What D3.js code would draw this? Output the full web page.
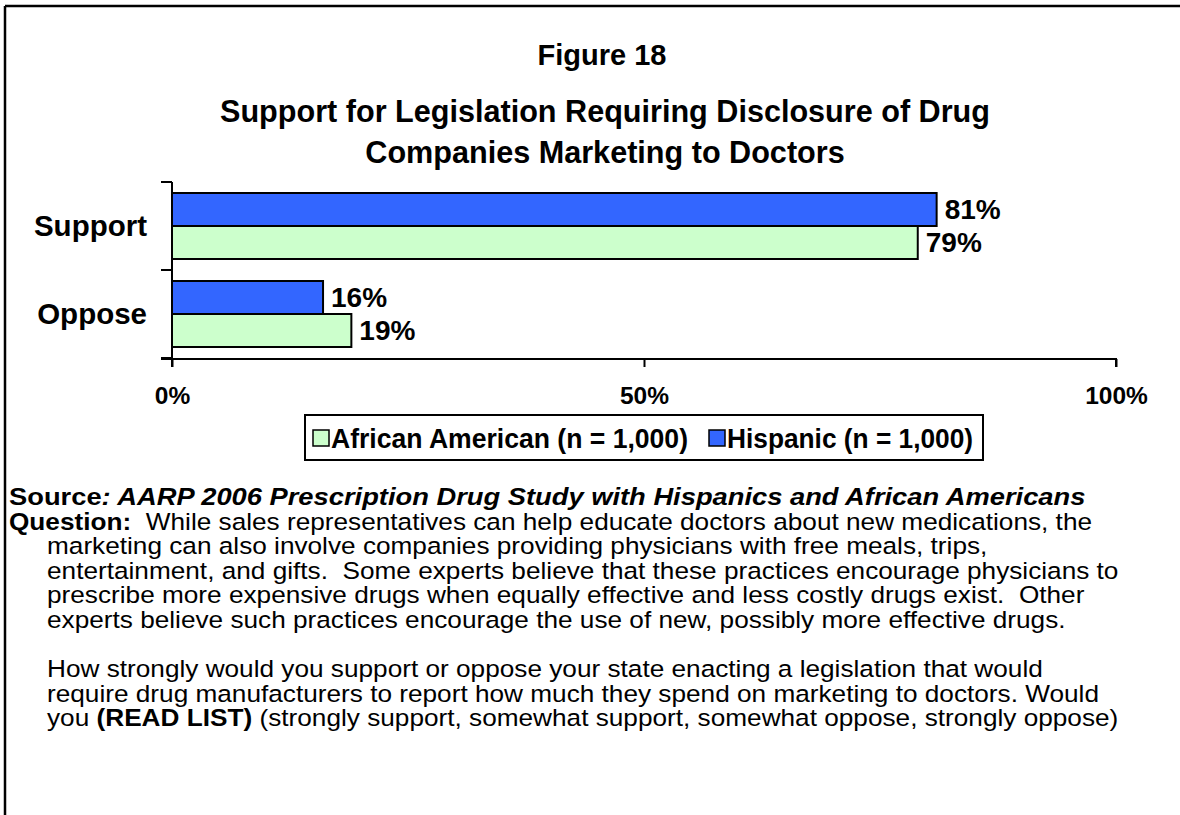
<!DOCTYPE html>
<html>
<head>
<meta charset="utf-8">
<script src="https://cdn.jsdelivr.net/npm/d3@7"></script>
<style>
  html, body { margin: 0; padding: 0; background: #fff; }
  svg { display: block; font-family: "Liberation Sans", Arial, sans-serif; }
</style>
</head>
<body>
<svg id="chart" width="1180" height="815"></svg>
<script>
// Survey responses by group (share of respondents)
const categories = ["Support", "Oppose"];
const seriesNames = ["Hispanic (n = 1,000)", "African American (n = 1,000)"];
const hispanic = [0.81, 0.16];
const africanAmerican = [0.79, 0.19];
const tickValues = [0, 0.5, 1];
const tickLabels = ["0%", "50%", "100%"];
const legendOrder = ["African American (n = 1,000)", "Hispanic (n = 1,000)"];
const seriesColors = { "Hispanic (n = 1,000)": "#3366FF", "African American (n = 1,000)": "#CCFFCC" };

const titleLines = [
  "Support for Legislation Requiring Disclosure of Drug",
  "Companies Marketing to Doctors"
];
const questionLines = [
  "marketing can also involve companies providing physicians with free meals, trips,",
  "entertainment, and gifts.  Some experts believe that these practices encourage physicians to",
  "prescribe more expensive drugs when equally effective and less costly drugs exist.  Other",
  "experts believe such practices encourage the use of new, possibly more effective drugs.",
  "",
  "How strongly would you support or oppose your state enacting a legislation that would",
  "require drug manufacturers to report how much they spend on marketing to doctors. Would"
];

const svg = d3.select("#chart");

// Frame: top and left rules
svg.append("line").attr("x1", 5).attr("x2", 1180).attr("y1", 6).attr("y2", 6)
  .attr("stroke", "#000").attr("stroke-width", 2.5);
svg.append("line").attr("x1", 5).attr("x2", 5).attr("y1", 6).attr("y2", 815)
  .attr("stroke", "#000").attr("stroke-width", 2.5);

// Titles
svg.append("text").attr("x", 602).attr("y", 65).attr("text-anchor", "middle")
  .attr("font-weight", "bold").attr("font-size", 29).text("Figure 18");
svg.selectAll("text.title").data(titleLines).join("text").attr("class", "title")
  .attr("x", 605).attr("y", (d, i) => 122 + i * 41).attr("text-anchor", "middle")
  .attr("font-weight", "bold").attr("font-size", 30.6).text(d => d);

// Scales
const x = d3.scaleLinear().domain([0, 1]).range([172, 1116]);
const y = d3.scaleBand().domain(categories).range([182, 358]);
const ySeries = d3.scaleBand().domain(seriesNames).range([11, y.bandwidth() - 11]);

const rows = categories.map((c, i) => ({
  category: c,
  values: [
    { series: seriesNames[0], value: hispanic[i] },
    { series: seriesNames[1], value: africanAmerican[i] }
  ]
}));

const groups = svg.selectAll("g.row").data(rows).join("g").attr("class", "row")
  .attr("transform", d => `translate(0,${y(d.category)})`);

groups.selectAll("rect").data(d => d.values).join("rect")
  .attr("x", x(0))
  .attr("y", d => ySeries(d.series))
  .attr("width", d => x(d.value) - x(0))
  .attr("height", ySeries.bandwidth())
  .attr("fill", d => seriesColors[d.series])
  .attr("stroke", "#000").attr("stroke-width", 2);

groups.selectAll("text.val").data(d => d.values).join("text").attr("class", "val")
  .attr("x", d => x(d.value) + 8)
  .attr("y", d => ySeries(d.series) + ySeries.bandwidth() / 2 + 9)
  .attr("font-weight", "bold").attr("font-size", 28)
  .text(d => Math.round(d.value * 100) + "%");

// Category axis
const yAxis = d3.axisLeft(y).tickSize(0).tickPadding(25);
const yAxisG = svg.append("g").attr("transform", `translate(${x(0)},0)`).call(yAxis);
yAxisG.select(".domain").attr("stroke", "#000").attr("stroke-width", 2)
  .attr("d", `M0,${y.range()[0]}V${y.range()[1] + 9}`);
yAxisG.selectAll(".tick text").attr("font-size", 29.5).attr("font-weight", "bold")
  .attr("fill", "#000").attr("font-family", "Liberation Sans, Arial, sans-serif")
  .attr("dy", "0.35em");
// Dividing ticks between categories
const boundaries = [y.range()[0], ...categories.map(c => y(c) + y.bandwidth())];
yAxisG.selectAll("line.div").data(boundaries).join("line").attr("class", "div")
  .attr("x1", -11).attr("x2", 0).attr("y1", d => d).attr("y2", d => d)
  .attr("stroke", "#000").attr("stroke-width", 2);

// Value axis
const xAxis = d3.axisBottom(x).tickValues(tickValues)
  .tickFormat((d, i) => tickLabels[i]).tickSize(8).tickPadding(20);
const xAxisG = svg.append("g").attr("transform", `translate(0,${y.range()[1] + 1})`).call(xAxis);
xAxisG.select(".domain").attr("stroke", "#000").attr("stroke-width", 2)
  .attr("d", `M${x(0) - 11},0H${x(1)}V8`);
xAxisG.selectAll(".tick line").attr("stroke", "#000").attr("stroke-width", 2);
xAxisG.selectAll(".tick text").attr("font-size", 24.5).attr("font-weight", "bold")
  .attr("fill", "#000").attr("font-family", "Liberation Sans, Arial, sans-serif");

// Legend
const legend = svg.append("g");
legend.append("rect").attr("x", 305).attr("y", 415).attr("width", 678).attr("height", 45)
  .attr("fill", "#fff").attr("stroke", "#000").attr("stroke-width", 2);
const legendX = [313, 709];
const legendWidths = [357, 246];
const legendItems = legend.selectAll("g.item").data(legendOrder).join("g").attr("class", "item")
  .attr("transform", (d, i) => `translate(${legendX[i]},438)`);
legendItems.append("rect").attr("x", 0).attr("y", -8).attr("width", 16).attr("height", 16)
  .attr("fill", d => seriesColors[d]).attr("stroke", "#000").attr("stroke-width", 1.5);
legendItems.append("text").attr("x", 18).attr("y", 10).attr("font-weight", "bold")
  .attr("font-size", 27.5)
  .attr("textLength", (d, i) => legendWidths[i]).attr("lengthAdjust", "spacingAndGlyphs")
  .text(d => d);

// Source and question notes (set in a slightly widened face)
const sx = 1.115;
const lineStep = 24.6;
const baseY = 505;
const note = svg.append("g").attr("font-size", 23.5).attr("transform", `scale(${sx},1)`);
const src = note.append("text").attr("x", 9 / sx).attr("y", baseY).attr("font-size", 24.5).attr("font-weight", "bold");
src.append("tspan").text("Source");
src.append("tspan").attr("font-style", "italic").text(":  AARP 2006 Prescription Drug Study with Hispanics and African Americans");

const q = note.append("text").attr("x", 9 / sx).attr("y", baseY + lineStep);
q.append("tspan").attr("font-weight", "bold").text("Question:");
q.append("tspan").text("\u00a0 While sales representatives can help educate doctors about new medications, the");

note.selectAll("text.ql").data(questionLines).join("text").attr("class", "ql")
  .attr("x", 47 / sx).attr("y", (d, i) => baseY + (i + 2) * lineStep)
  .text(d => d.replace(/  /g, "\u00a0 "));

const last = note.append("text").attr("x", 47 / sx).attr("y", baseY + (questionLines.length + 2) * lineStep);
last.append("tspan").text("you ");
last.append("tspan").attr("font-weight", "bold").text("(READ LIST)");
last.append("tspan").text(" (strongly support, somewhat support, somewhat oppose, strongly oppose)");
</script>
</body>
</html>
